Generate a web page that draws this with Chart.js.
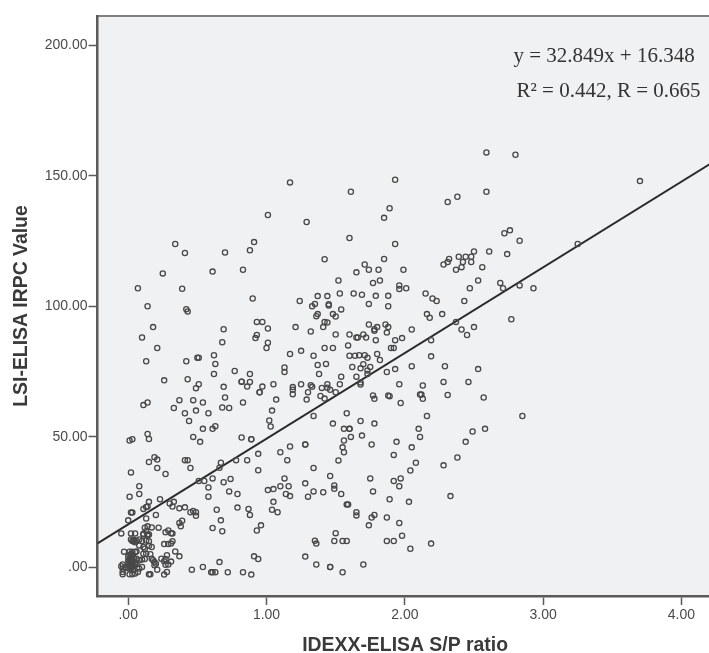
<!DOCTYPE html>
<html>
<head>
<meta charset="utf-8">
<title>LSI-ELISA vs IDEXX-ELISA</title>
<script src="https://cdn.jsdelivr.net/npm/chart.js@4"></script>
<style>
    html, body { margin: 0; padding: 0; background: #fff; overflow: hidden; }
    canvas { display: block; }
</style>
</head>
<body>
<!-- the plot runs off the right edge of the page, as in the original -->
<canvas id="scatterChart" width="718" height="653"></canvas>
<script>
// Values
const idexxRatio = [
    1.17,1.01,1.29,1.61,1.60,.34,.91,.88,.41,.70,
    1.42,.61,.83,.25,1.52,.07,.39,1.53,1.63,1.37,
    1.44,.90,1.24,1.35,1.33,.14,1.45,1.45,.42,.43,
    1.54,1.37,1.36,1.48,1.50,.18,.93,.97,1.42,1.44,
    1.01,1.21,1.41,.69,1.32,
    2.59,2.80,3.70,1.93,2.31,2.38,2.59,1.89,1.85,1.93,
    3.25,2.72,2.76,2.83,2.61,2.74,2.50,1.85,2.39,2.44,
    2.48,2.32,2.31,2.28,2.42,2.48,2.41,2.37,2.56,1.71,
    1.74,1.81,1.65,1.99,1.82,1.77,2.53,2.47,1.96,1.96,
    2.01,2.69,2.71,2.83,2.93,2.15,2.20,2.23,2.43,1.69,
    1.79,1.88,1.74,1.88,2.16,2.18,2.27,2.77,2.37,1.74,
    1.80,1.78,1.86,1.88,2.05,2.41,2.50,
    1.50,1.60,1.65,1.66,1.70,1.72,1.79,1.93,1.98,1.87,
    1.78,2.45,2.19,1.59,1.42,1.48,1.90,1.92,1.25,1.17,
    1.34,1.60,1.64,1.67,1.71,1.73,1.80,1.82,2.19,1.37,
    1.43,1.62,1.68,1.70,1.75,1.73,1.73,1.93,1.87,2.05,
    2.29,2.53,1.38,1.54,1.65,2.28,2.46,1.25,1.32,1.33,
    1.19,1.19,1.19,1.40,1.44,1.44,1.46,1.50,1.53,1.68,
    1.68,1.96,2.13,1.30,1.39,1.42,1.29,1.77,1.78,1.88,
    1.89,2.11,2.12,2.13,2.31,2.57,
    .10,.93,.92,.68,1.01,1.00,.21,.13,.42,.50,
    .51,.62,.63,.62,.77,.88,1.13,1.13,.26,.43,
    .51,.49,.82,.82,.88,.86,.97,1.05,.69,.70,
    .95,.95,1.07,
    .11,.14,.37,.47,.54,.33,.41,.49,.58,.68,
    .73,.83,.44,1.04,1.02,1.03,.54,.61,.63,.47,
    .52,.14,.15,.01,.03,.82,.89,.89,1.17,1.10,
    .94,1.15,.19,.21,.15,.41,.43,.78,.86,.67,
    .66,.21,.45,.94,.02,.27,1.13,.51,.55,.61,
    .74,.69,.08,.58,1.01,1.05,1.10,1.16,.73,.79,
    .01,.08,.58,1.14,1.17,.15,.23,1.05,.30,.33,
    .32,.13,.14,.11,.03,.02,.37,.41,.45,.47,
    .49,.49,.64,.79,.87,.88,1.04,1.08,.00,.20,
    .13,.39,.37,.38,.67,.61,.68,.93,.96,-.05,
    .12,.13,.17,.14,.22,.11,.14,.15,.27,.29,
    .32,.31,.26,.29,.32,.31,.02,.05,.02,.03,
    .05,.04,.04,.06,.08,.10,.11,.15,.13,.14,
    .08,.11,.15,.12,.17,.11,.13,.16,.06,.12,
    .17,.18,.19,.20,.19,.21,.24,.27,.28,.31,
    .29,.27,.26,.34,.37,.28,.26,.15,.16,.66,
    .91,.94,.54,.46,.60,.61,.63,.72,.83,.89,
    -.03,.01,.03,.05,.00,.01,.02,.03,.00,.01,
    .02,.03,.04,.01,.02,.03,.00,.04,.02,.03,
    .01,.02,.03,.04,.01,.00,.05,.02,.035,-.04,
    -.02,-.05,-.04,-.04,-.04,.01,.03,.05,.07,.10,
    .08,.06,.08,.10,.06,
    1.97,1.58,1.34,1.68,1.48,1.78,2.16,1.56,1.60,1.60,
    2.10,2.49,2.58,2.11,1.69,1.61,1.56,1.76,1.94,2.44,
    1.28,1.28,2.05,1.55,1.56,1.92,2.38,1.52,2.08,2.28,
    1.34,2.04,1.46,1.75,1.97,1.92,1.28,1.49,1.49,1.96,
    1.34,1.41,1.54,1.77,1.30,1.89,2.33,2.03,1.58,1.59,
    1.65,1.65,1.78,1.76,1.87,1.96,1.74,1.98,1.50,1.35,
    1.36,1.49,1.55,1.58,1.87,1.92,2.19,2.04,1.28,1.36,
    1.46,1.46,1.70,1.55,2.85
];
const lsiIrpc = [
    147.5,135,132.3,143.9,126.2,123.9,124.6,121.5,120.4,120.6,
    118,113.3,114,112.6,109.9,106.9,106.7,104.9,104.9,103.9,
    103.9,103,102,100.9,100,100,100.8,100.3,98.9,98,
    98.8,97,96.2,97,96.1,92,94,94,94,93.8,
    91.5,92,92,91.2,90.3,
    159,158.1,148,148.5,140,142,143.9,137.6,133.9,123.9,
    123.9,128,129.1,125.1,121,120,121,118.1,119,119,
    119,118.1,117,116,117,117,115,114,115,116,
    114,114,113,114,109.9,108.9,109.9,106.9,108,106.6,
    106.9,108.9,106.9,108,106.9,104.9,103,102,102,104.4,
    104,104,100.9,100,97,95.6,97,95,94,93,
    92,91.2,93,92,91.1,91.1,92,
    89.2,89.2,88,88,89.2,88,87,87,87.8,89.9,
    90.6,89,87,85,84,84,84,84,82.9,81.7,
    81,81,81,81.2,81.2,80.3,81.7,79.4,80.8,77.5,
    77.9,76.7,76.2,77.8,76.7,75.4,74,75.9,74.8,77,
    77,75.9,74,73,73,71,71,70.1,69.7,69.1,
    69,68,66.3,68.7,70.1,68.8,68,67,70.1,70.8,
    70,70.1,69.6,67,65.6,64.6,64.2,65.8,64.5,65.8,
    65.5,66.2,66.2,64.5,66,65,
    88,89,87.8,86.2,86,84,84,78.9,78.9,80.3,
    80.3,81.2,77.9,74,75.2,74,76.5,74.8,71.6,72,
    70.1,68.6,71.1,71.1,71,69.2,69.2,70.1,69.1,65,
    67,67,64.2,
    62.1,63.1,64,64,63.1,61,59,60,59,61.2,
    61,63.1,56,60,56.2,53.9,53,53,54,49.9,
    48,51,49.1,48.5,49,49.7,49,49,46.2,44,
    43.4,41,42.1,41.2,40.3,41,41,41,41,40,
    38.1,38,38,37.1,36.3,35.7,34,33,33,34,
    33.8,32.5,31,30.5,29.5,29.9,31,31,29,28,
    27,28,27,28,27.2,25,26,25,24.4,25,
    23.2,23,23.2,22.3,20.9,20.9,22.5,22.9,21,21.5,
    21,19.7,22,22.8,22.3,20,22,21,17.9,20,
    18.6,17.8,16.9,15.6,17.9,15,13.7,14,16,12.9,
    15.1,13.7,15.2,15.6,15.1,12.8,12.5,12.5,13.3,14,
    12.9,13,8.8,8.8,9.9,9,12.9,12.9,10.6,10,
    9.5,9.8,10.5,10,10.6,10,12.5,9.9,10.2,12,
    8.3,7.7,8.2,7,7.7,5.1,5.1,4.9,6,3.1,
    3.2,2.6,1.9,1.3,.7,-1,3.2,3.1,4.5,2.1,
    1,.9,2.2,6,4.1,-1.9,-2.9,-2.8,-2.8,1.9,
    4.1,3.1,0,-1,-2,-2,-2,-2,-2,-2.9,
    5.9,5.9,5.9,5.8,4,3,2,1,1,0,
    3.5,3,2,4.5,5,4.5,2.5,.5,-.5,0,
    1.5,1,2,3.5,2.5,-.5,1.5,.2,-1,1,
    0,.3,-.6,-2.8,-1.9,-2.8,-2.8,-2.5,-1.9,0,
    -.6,1.3,2.6,2.9,3.2,
    62.9,59,57.9,56,55,55,57.9,53,53,53,
    53,52,53,49.9,50.4,49.9,48.5,47,48,48,
    47,47,45.9,45.9,44,43,42,40.9,40,39,
    38,37,34.9,34,34,33,32.1,31.3,30,31,
    29,28.7,28,29,27,26,27.2,25,24,24,
    21,19.8,20,19,19,16.9,16,12,13,10.1,
    9,10,10,10,10,10,9,7,4,1,
    0,0,1,-2,57.9
];

// Fit line end points, at the edges of the plot
const fitX = [-0.222, 4.226];
const fitY = [9.05, 155.17];

const equationText = 'y = 32.849x + 16.348';
const fitText = 'R\u00b2 = 0.442, R = 0.665';

const xTicks = [0, 1, 2, 3, 4];
const yTicks = [0, 50, 100, 150, 200];

const plotBackground = '#f0f1f2';
const axisColor = '#5a5a5a';
const tickLabelColor = '#4a4a4a';

// SPSS writes .00 rather than 0.00
function spssLabel(value) {
    return value.toFixed(2).replace(/^0/, '');
}

// Grey plot area, top edge and the two text lines in the corner
const plotDecor = {
    id: 'plotDecor',
    beforeDraw(chart) {
        const { ctx, chartArea } = chart;
        ctx.save();
        ctx.fillStyle = plotBackground;
        ctx.fillRect(chartArea.left, chartArea.top, chartArea.right - chartArea.left, chartArea.bottom - chartArea.top);
        ctx.strokeStyle = '#808080';
        ctx.lineWidth = 2;
        ctx.beginPath();
        ctx.moveTo(chartArea.left, chartArea.top);
        ctx.lineTo(chartArea.right, chartArea.top);
        ctx.stroke();
        ctx.restore();
    },
    afterDraw(chart) {
        const ctx = chart.ctx;
        ctx.save();
        ctx.fillStyle = '#333333';
        ctx.font = '21px "Liberation Serif"';
        ctx.textBaseline = 'alphabetic';
        ctx.fillText(equationText, 513.5, 61.5);
        ctx.fillText(fitText, 516.5, 97);
        ctx.restore();
    }
};

const scatterData = idexxRatio.map((x, i) => ({ x: x, y: lsiIrpc[i] }));
const fitData = fitX.map((x, i) => ({ x: x, y: fitY[i] }));

const ctx = document.getElementById('scatterChart').getContext('2d');
new Chart(ctx, {
    type: 'scatter',
    data: {
        datasets: [
            {
                label: 'Samples',
                data: scatterData,
                pointStyle: 'circle',
                pointRadius: 2.6,
                pointBorderWidth: 1.3,
                pointBorderColor: '#484848',
                pointBackgroundColor: 'rgba(0,0,0,0)',
            },
            {
                type: 'line',
                label: 'Fit',
                data: fitData,
                borderColor: '#2b2b2b',
                borderWidth: 2,
                pointRadius: 0,
                fill: false,
            },
        ],
    },
    plugins: [plotDecor],
    options: {
        responsive: false,
        animation: false,
        layout: { padding: { top: 16, right: 0, bottom: 0, left: 0 } },
        plugins: { legend: { display: false }, tooltip: { enabled: false } },
        scales: {
            x: {
                type: 'linear',
                min: fitX[0],
                max: fitX[1],
                afterBuildTicks: (scale) => { scale.ticks = xTicks.map((v) => ({ value: v })); },
                afterFit: (scale) => { scale.height = 57; },
                ticks: {
                    callback: spssLabel,
                    color: tickLabelColor,
                    font: { family: '"Liberation Sans"', size: 14 },
                    padding: 2,
                    maxRotation: 0,
                },
                grid: { drawOnChartArea: false, tickLength: 9, tickColor: axisColor, tickWidth: 1.5 },
                border: { color: axisColor, width: 2.5 },
                title: {
                    display: true,
                    text: 'IDEXX-ELISA S/P ratio',
                    color: '#3a3a3a',
                    font: { family: '"Liberation Sans"', size: 19.4, weight: 'bold' },
                    padding: { top: 0, bottom: -4 },
                },
            },
            y: {
                type: 'linear',
                min: -11.1,
                max: 211.3,
                afterBuildTicks: (scale) => { scale.ticks = yTicks.map((v) => ({ value: v })); },
                afterFit: (scale) => { scale.width = 97.5; },
                ticks: {
                    callback: spssLabel,
                    color: tickLabelColor,
                    font: { family: '"Liberation Sans"', size: 14 },
                    padding: 1,
                },
                grid: { drawOnChartArea: false, tickLength: 9, tickColor: axisColor, tickWidth: 1.5 },
                border: { color: axisColor, width: 2.5 },
                title: {
                    display: true,
                    text: 'LSI-ELISA IRPC Value',
                    color: '#3a3a3a',
                    font: { family: '"Liberation Sans"', size: 19.4, weight: 'bold' },
                    padding: { top: 10, bottom: 0 },
                },
            },
        },
    },
});
</script>
</body>
</html>
